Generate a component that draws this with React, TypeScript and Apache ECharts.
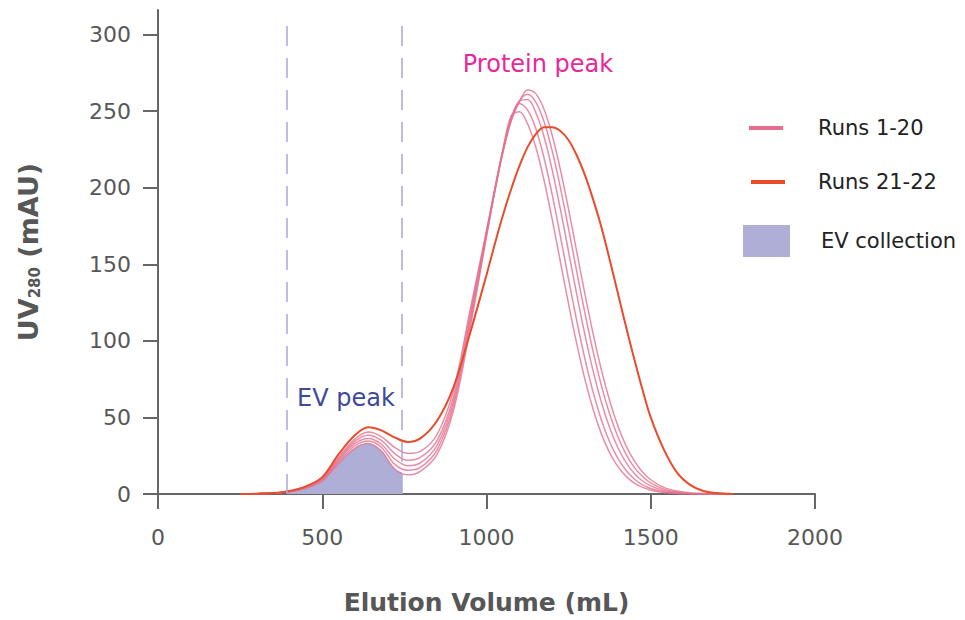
import React, { useEffect, useRef } from "react";
import * as echarts from "echarts";

// Elution volumes (mL) at which the traces were read
const volumes = [
  250, 300, 350, 400, 450, 500, 550, 600, 640, 680, 720, 760, 800, 850, 900, 950, 1000,
  1025, 1050, 1075, 1100, 1125, 1150, 1175, 1200, 1225, 1250, 1275, 1300, 1325, 1350,
  1375, 1400, 1425, 1450, 1475, 1500, 1540, 1580, 1620, 1660, 1700, 1750,
];

// Runs 1-20 (five representative traces), UV280 mAU
const runA = [
  0, 0.2, 0.6, 1.8, 4.6, 10.5, 24, 36, 40.5, 37.5, 30.5, 26.5, 28, 39, 68, 120, 172,
  199, 225, 247, 249.5, 241.7, 226.5, 205, 179.3, 151.6, 123.9, 97.8, 74.5, 55, 39.1,
  26.9, 17.9, 11.5, 7.1, 4.3, 2.5, 1, 0.3, 0.1, 0, 0, 0,
];
const runB = [
  0, 0.2, 0.6, 1.7, 4.4, 10, 23, 34.5, 38.4, 35, 26.5, 22, 24, 35, 64, 117, 171,
  198.5, 224.5, 245.5, 255, 250.8, 238.6, 219.5, 195.4, 168.2, 140, 112.8, 87.9, 66.2, 48.2,
  34, 23.2, 15.3, 9.8, 6, 3.6, 1.5, 0.55, 0.2, 0, 0, 0,
];
const runC = [
  0, 0.2, 0.5, 1.6, 4.2, 9.5, 22, 33, 36.3, 32.5, 23, 18.5, 20.5, 32, 61, 114, 170,
  198, 224, 244.5, 256.5, 257.5, 249.1, 233.4, 211.6, 185.8, 158, 130, 103.6, 79.9, 59.7,
  43.2, 30.2, 20.5, 13.4, 8.5, 5.3, 2.3, 0.9, 0.3, 0.1, 0, 0,
];
const runD = [
  0, 0.2, 0.5, 1.5, 4, 9, 21, 31.5, 34.6, 30.5, 19.5, 15.5, 17.5, 29, 58, 111, 169,
  197.5, 223.5, 244, 256.5, 261, 255.9, 243.2, 224, 199.9, 172.9, 144.9, 117.7, 92.6, 70.6,
  52.2, 37.4, 25.9, 17.4, 11.4, 7.2, 3.2, 1.3, 0.5, 0.2, 0, 0,
];
const runE = [
  0, 0.2, 0.5, 1.4, 3.8, 8.5, 20, 30, 32.9, 28, 16.5, 12.5, 15, 26, 55, 108, 168,
  197, 223, 243.5, 256, 263.8, 261.4, 251.2, 234.2, 211.7, 185.6, 157.9, 130.2, 104.2, 80.8,
  60.9, 44.4, 31.4, 21.6, 14.4, 9.3, 4.3, 1.9, 0.7, 0.3, 0.1, 0,
];
// Runs 21-22
const runs2122 = [
  0, 0.2, 0.6, 2, 5, 11, 26, 38.5, 43.5, 41.5, 37, 34, 36.5, 48, 70, 105, 143,
  163, 182, 199, 214, 226.5, 235, 239.4, 239.5, 237, 231, 221, 208, 192, 174,
  153, 131, 109, 88, 68, 50, 29, 14, 6, 2, 0.6, 0,
];

// EV collection window and its shaded area (under the lowest trace)
const evWindow = [393, 743];
const evCollectionVolumes = [393, 400, 450, 500, 550, 600, 640, 680, 720, 743];
const evCollectionValues = [1.3, 1.4, 3.8, 8.5, 20, 30, 32.9, 28, 16.5, 14];

const yTicks = [0, 50, 100, 150, 200, 250, 300];
const xTicks = [0, 500, 1000, 1500, 2000];

const pinkRuns = [runA, runB, runC, runD, runE];

const PINK = "#e4708f";
const RED = "#e94b2b";
const LAVENDER = "#aeaed6";
const DASH = "#a9a9dd";
const AXIS = "#666666";
const LABEL = "#575757";
const FONT = "DejaVu Sans";

export default function App() {
  const ref = useRef<HTMLDivElement>(null);

  useEffect(() => {
    if (!ref.current) return;
    const chart = echarts.init(ref.current, null, { renderer: "svg" });

    const pinkSeries = pinkRuns.map((run) => ({
      name: "Runs 1-20",
      type: "line",
      data: volumes.map((v, i) => [v, run[i]]),
      showSymbol: false,
      symbol: "none",
      smooth: 0.35,
      color: PINK,
      lineStyle: { color: PINK, width: 1.5, opacity: 0.8 },
      itemStyle: { color: PINK },
      z: 3,
      silent: true,
    }));

    const legendText = (pad: number) => ({
      color: "#222",
      fontFamily: FONT,
      fontSize: 21,
      lineHeight: 24,
      padding: [0, 0, 0, pad],
    });

    const option: any = {
      animation: false,
      grid: { left: 158, right: 150, top: 10, bottom: 126, containLabel: false },
      xAxis: {
        type: "value",
        min: 0,
        max: 2000,
        interval: 500,
        axisLine: { show: true, lineStyle: { color: AXIS, width: 2 } },
        axisTick: { show: true, length: 15, lineStyle: { color: AXIS, width: 2 }, customValues: xTicks },
        axisLabel: {
          customValues: xTicks,
          margin: 32,
          color: LABEL,
          fontFamily: FONT,
          fontSize: 22,
          lineHeight: 22,
          formatter: (v: number) => String(v),
        },
        splitLine: { show: false },
        name: "Elution Volume (mL)",
        nameLocation: "middle",
        nameGap: 96,
        nameTextStyle: { color: LABEL, fontFamily: FONT, fontSize: 25, fontWeight: "bold", lineHeight: 25 },
      },
      yAxis: {
        type: "value",
        min: 0,
        max: 316,
        interval: 50,
        axisLine: { show: true, lineStyle: { color: AXIS, width: 2 } },
        axisTick: { show: true, length: 15, lineStyle: { color: AXIS, width: 2 }, customValues: yTicks },
        axisLabel: {
          customValues: yTicks,
          margin: 27,
          color: LABEL,
          fontFamily: FONT,
          fontSize: 22,
          formatter: (v: number) => (v % 50 === 0 ? String(v) : ""),
        },
        splitLine: { show: false },
        name: "{a|UV}{b|280}{a| (mAU)}",
        nameLocation: "middle",
        nameRotate: 90,
        nameGap: 116,
        nameTextStyle: {
          rich: {
            a: { color: LABEL, fontFamily: FONT, fontSize: 27, fontWeight: "bold" },
            b: { color: LABEL, fontFamily: FONT, fontSize: 15, fontWeight: "bold", verticalAlign: "bottom", padding: [12, 0, 0, 0] },
          },
        },
      },
      legend: [
        {
          data: ["Runs 1-20"],
          left: 749,
          top: 116,
          padding: 0,
          icon: "rect",
          itemWidth: 34,
          itemHeight: 4,
          itemStyle: { borderWidth: 0 },
          textStyle: legendText(30),
          selectedMode: false,
        },
        {
          data: ["Runs 21-22"],
          left: 751,
          top: 170,
          padding: 0,
          icon: "rect",
          itemWidth: 34,
          itemHeight: 4,
          itemStyle: { borderWidth: 0 },
          textStyle: legendText(28),
          selectedMode: false,
        },
        {
          data: ["EV collection"],
          left: 743,
          top: 225,
          padding: 0,
          icon: "rect",
          itemWidth: 47,
          itemHeight: 32,
          itemStyle: { borderWidth: 0 },
          textStyle: legendText(26),
          selectedMode: false,
        },
      ],
      graphic: [
        {
          type: "text",
          x: 538,
          y: 64,
          silent: true,
          style: {
            text: "Protein peak",
            fill: "#e8279a",
            font: `24px "${FONT}"`,
            align: "center",
            verticalAlign: "middle",
          },
        },
        {
          type: "text",
          x: 346,
          y: 398,
          silent: true,
          style: {
            text: "EV peak",
            fill: "#3c4a9c",
            font: `24px "${FONT}"`,
            align: "center",
            verticalAlign: "middle",
          },
        },
      ],
      series: [
        {
          name: "EV collection",
          type: "line",
          data: evCollectionVolumes.map((v, i) => [v, evCollectionValues[i]]),
          showSymbol: false,
          symbol: "none",
          smooth: 0.35,
          color: LAVENDER,
          itemStyle: { color: LAVENDER },
          lineStyle: { width: 0, color: LAVENDER },
          areaStyle: { color: LAVENDER, opacity: 1 },
          z: 1,
          silent: true,
          markLine: {
            silent: true,
            symbol: ["none", "none"],
            label: { show: false },
            lineStyle: { color: DASH, width: 1.5, type: [20, 12] },
            data: evWindow.map((x) => [{ coord: [x, 0] }, { coord: [x, 311] }]),
          },
        },
        ...pinkSeries,
        {
          name: "Runs 21-22",
          type: "line",
          data: volumes.map((v, i) => [v, runs2122[i]]),
          showSymbol: false,
          symbol: "none",
          smooth: 0.35,
          color: RED,
          itemStyle: { color: RED },
          lineStyle: { color: RED, width: 2 },
          z: 4,
          silent: true,
        },
      ],
    };

    chart.setOption(option);
    return () => chart.dispose();
  }, []);

  return (
    <div
      ref={ref}
      style={{ position: "absolute", left: 0, top: 0, width: 965, height: 620, background: "#fff" }}
    />
  );
}
